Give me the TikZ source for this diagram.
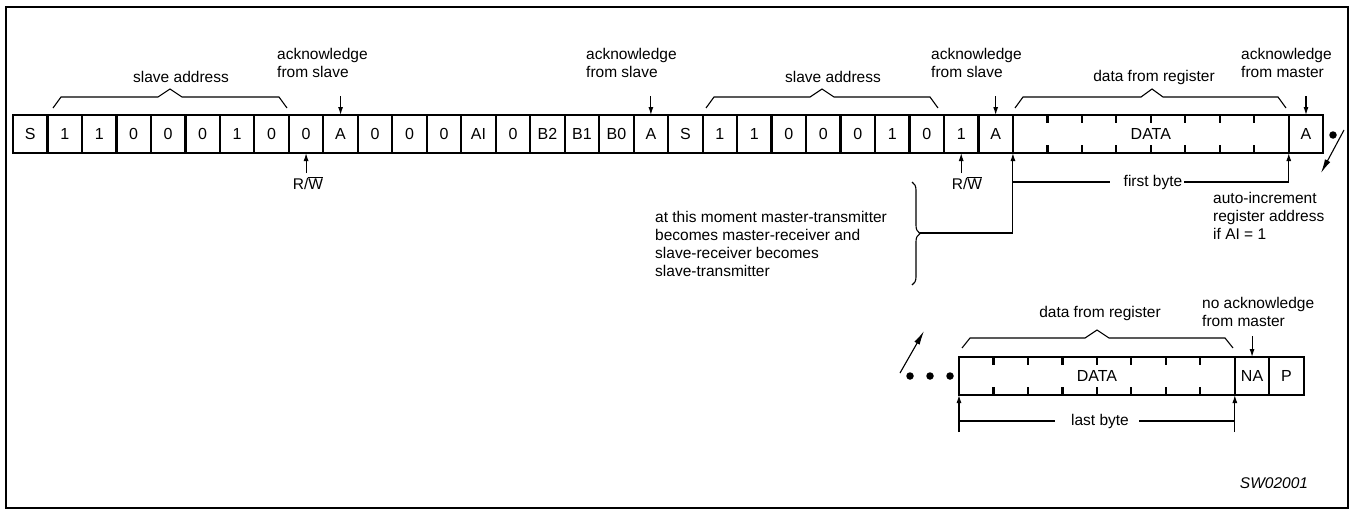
\documentclass[tikz,border=0pt]{standalone}
\usepackage{fontspec}
\setmainfont{Liberation Sans}
\usetikzlibrary{arrows.meta, decorations.pathreplacing, calc, positioning}

\newcommand\lblsize{\fontsize{15.5}{17.7}\selectfont}
\newcommand\bitsize{\fontsize{16}{18}\selectfont}
\newcommand\notW{$\overline{\hbox{W}}$}

\begin{document}
\begin{tikzpicture}[
    x=1pt, y=-1pt,    % one unit = one pixel of the sheet, y grows downwards
    >={Latex[length=8pt, width=5pt]},
    bit/.style={draw, line width=2.2pt, minimum width=34.48pt, minimum height=38pt,
                inner sep=0pt, outer sep=0pt, font=\bitsize},
    byte/.style={bit, minimum width=275.84pt},
    lbl/.style={font=\lblsize, inner sep=0pt},
    thin line/.style={line width=1.1pt},
    tick/.style={line width=2.2pt},
    dot/.style={circle, fill, inner sep=0pt, minimum size=7.5pt},
    cont/.style={thin line, -{Latex[length=14pt, width=6pt]}},
]

% ── Sheet and frame ──────────────────────────────────────────────────────────
\useasboundingbox (0,0) rectangle (1353,512);
\draw[line width=2.6pt] (6,7) rectangle (1348,508);

% ── First row: address, register, restart, address, first data byte ─────────
\foreach \b [count=\i from 0] in {S,1,1,0,0,0,1,0,0,A,0,0,0,AI,0,B2,B1,B0,A,S,1,1,0,0,0,1,0,1,A}
    \node[bit] (c\i) at ({13+34.48*(\i+0.5)}, 134) {\b};
\node[byte, right=0pt of c28] (data1) {DATA};
\node[bit, right=0pt of data1] (am1) {A};

% byte ticks
\foreach \k in {1,...,7} {
    \draw[tick] ($(data1.north west)+(34.48*\k,0)$) -- ++(0,8);
    \draw[tick] ($(data1.south west)+(34.48*\k,0)$) -- ++(0,-8);
}

% continuation mark
\node[dot] (dr) at (1333,135) {};
\draw[cont] (1344,130) -- (1321,173);

% ── Braces over the first row ────────────────────────────────────────────────
\draw[thin line] (53,108) -- (61,97) -- (158,97) -- (170,89) -- (182,97) -- (279,97) -- (287,108);
\draw[thin line] (706,108) -- (714,97) -- (810,97) -- (822,89) -- (834,97) -- (930,97) -- (938,108);
\draw[thin line] (1015,108) -- (1023,97) -- (1141,97) -- (1152,89) -- (1163,97) -- (1278,97) -- (1286,108);

\node[lbl] (addr1) at (181,77) {slave address};
\node[lbl] (addr2) at (833,77) {slave address};
\node[lbl] (reg1)  at (1154,77) {data from register};

% ── Acknowledge labels ───────────────────────────────────────────────────────
\node[lbl, align=left, anchor=west] (ack1) at (277,63)  {acknowledge\\from slave};
\node[lbl, align=left, anchor=west] (ack2) at (586,63)  {acknowledge\\from slave};
\node[lbl, align=left, anchor=west] (ack3) at (931,63)  {acknowledge\\from slave};
\node[lbl, align=left, anchor=west] (ack4) at (1241,63) {acknowledge\\from master};

\draw[->, thin line] ($(c9.north)+(0,-19)$)  -- (c9.north);
\draw[->, thin line] ($(c18.north)+(0,-19)$) -- (c18.north);
\draw[->, thin line] ($(c28.north)+(0,-19)$) -- (c28.north);
\draw[->, thin line] ($(am1.north)+(0,-19)$) -- (am1.north);

% ── R/W bits ─────────────────────────────────────────────────────────────────
\node[lbl] (rw1) at (308,183) {R/\notW};
\node[lbl] (rw2) at (967,183) {R/\notW};
\draw[->, thin line] ($(c8.south)+(0,20)$)  -- (c8.south);
\draw[->, thin line] ($(c27.south)+(0,20)$) -- (c27.south);

% ── Direction change note ────────────────────────────────────────────────────
\node[lbl, align=left, anchor=west] (note) at (655,244)
    {at this moment master-transmitter\\becomes master-receiver and\\slave-receiver becomes\\slave-transmitter};
\draw[thin line, decorate, decoration={brace, amplitude=8pt}] (912,182) -- (912,285);
\coordinate (tip) at (920,233);
\draw[->, thin line] (tip) -| (data1.south west);

% ── First byte ───────────────────────────────────────────────────────────────
\node[lbl] (fb) at (1153,182) {first byte};
\draw[thin line] (data1.south west |- fb) -- ($(fb.west)+(-14,0)$);
\draw[->, thin line] ($(fb.east)+(2,0)$) -| (am1.south west);

\node[lbl, align=left, anchor=west] (auto) at (1213,216)
    {auto-increment\\register address\\if AI = 1};

% ── Second row: last data byte and stop ──────────────────────────────────────
\node[byte] (data2) at (1096.9,376) {DATA};
\node[bit, right=0pt of data2] (na) {NA};
\node[bit, right=0pt of na] (stop) {P};

\foreach \k in {1,...,7} {
    \draw[tick] ($(data2.north west)+(34.48*\k,0)$) -- ++(0,8);
    \draw[tick] ($(data2.south west)+(34.48*\k,0)$) -- ++(0,-8);
}

\node[dot] (d1) at (910,376) {};
\node[dot] (d2) at (930,376) {};
\node[dot] (d3) at (950,376) {};
\draw[cont] (900,373) -- (924,331);

\draw[thin line] (962,348) -- (970,338) -- (1085,338) -- (1097,330) -- (1109,338) -- (1225,338) -- (1233,348);
\node[lbl] (reg2) at (1100,313) {data from register};

\node[lbl, align=left, anchor=west] (nack) at (1202,312) {no acknowledge\\from master};
\draw[->, thin line] ($(na.north)+(0,-21)$) -- (na.north);

% ── Last byte ────────────────────────────────────────────────────────────────
\node[lbl] (lb) at (1100,421) {last byte};
\draw[thin line] (data2.south west |- lb) -- ($(lb.west)+(-16,0)$);
\draw[thin line] ($(lb.east)+(10,0)$) -- (na.south west |- lb);
\draw[->, thin line] ($(data2.south west)+(0,37)$) -- (data2.south west);
\draw[->, thin line] ($(na.south west)+(0,37)$) -- (na.south west);

\node[lbl, font=\lblsize\itshape] (code) at (1274,483) {SW02001};

\end{tikzpicture}
\end{document}
